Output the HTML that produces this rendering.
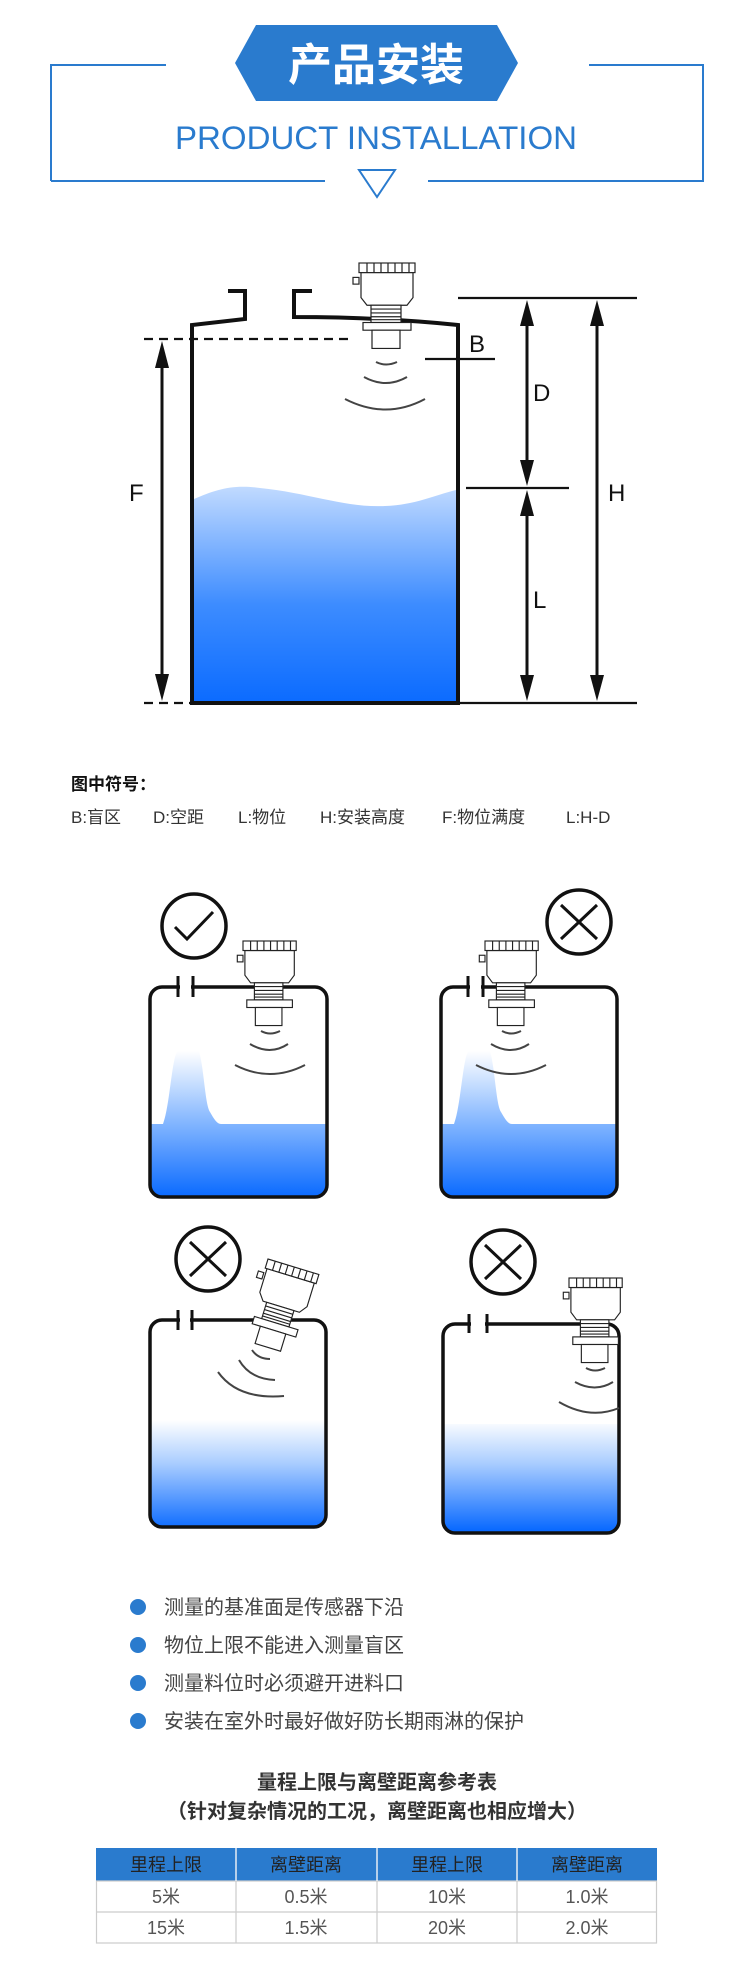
<!DOCTYPE html>
<html><head><meta charset="utf-8"><style>
html,body{margin:0;padding:0;background:#fff;}
body{width:750px;height:1978px;overflow:hidden;position:relative;}
svg{position:absolute;left:0;top:0;}
text{font-family:"Liberation Sans","Noto Sans CJK SC",sans-serif;}
</style></head><body>
<svg width="750" height="1978" viewBox="0 0 750 1978" xmlns="http://www.w3.org/2000/svg">
<defs>
<g id="sensor" fill="#fff" stroke="#222" stroke-width="1.2">
  <rect x="-6" y="15" width="6" height="7"/>
  <path d="M2,10 L54,10 L54,36 L48,44 L8,44 L2,36 Z"/>
  <rect x="0" y="0" width="56" height="10"/>
  <path d="M8,0V10M15,0V10M22,0V10M29,0V10M36,0V10M43,0V10M50,0V10" fill="none"/>
  <rect x="12" y="44" width="30" height="18"/>
  <path d="M12,48H42M12,52H42M12,56H42M12,59H42" fill="none"/>
  <rect x="4" y="62" width="48" height="8"/>
  <rect x="13" y="70" width="28" height="19"/>
</g>
<linearGradient id="gMain" x1="0" y1="484" x2="0" y2="703" gradientUnits="userSpaceOnUse">
  <stop offset="0" stop-color="#c4dcff"/><stop offset="0.55" stop-color="#3d8cff"/><stop offset="1" stop-color="#0b6bff"/>
</linearGradient>
<linearGradient id="g1" x1="0" y1="1051" x2="0" y2="1197" gradientUnits="userSpaceOnUse">
  <stop offset="0" stop-color="#ffffff"/><stop offset="0.45" stop-color="#8dbcff"/><stop offset="1" stop-color="#0a6aff"/>
</linearGradient>
<linearGradient id="g3" x1="0" y1="1420" x2="0" y2="1530" gradientUnits="userSpaceOnUse">
  <stop offset="0" stop-color="#ffffff"/><stop offset="0.4" stop-color="#a8ccff"/><stop offset="1" stop-color="#0a6aff"/>
</linearGradient>
</defs>

<!-- Header -->
<path d="M51,181 V65 H166 M589,65 H703 V181 H428 M325,181 H51" fill="none" stroke="#2a7bce" stroke-width="2"/>
<polygon points="235,63 256,25 497,25 518,63 497,101 256,101" fill="#2a7bce"/>
<text x="376" y="80" font-size="44" font-weight="bold" fill="#fff" text-anchor="middle">产品安装</text>
<text x="175" y="149" font-size="32" fill="#2a7bce" textLength="402" lengthAdjust="spacingAndGlyphs">PRODUCT INSTALLATION</text>
<polygon points="359,170 395,170 377,197" fill="none" stroke="#2a7bce" stroke-width="2"/>

<!-- Main tank -->
<path d="M194,499 C215,490 232,484 260,488 C310,493 345,508 385,506 C415,505 435,495 456,490 L456,701 L194,701 Z" fill="url(#gMain)"/>
<path d="M228,291 H245 V319 L192,325 V703 H458 V325 Q380,317 294,317 V291 H312" fill="none" stroke="#111" stroke-width="4"/>
<use href="#sensor" transform="translate(359,263) scale(1,0.96)"/>
<g fill="none" stroke="#444" stroke-width="2">
<path d="M376,362 Q386,367 397,362"/><path d="M364,377 Q386,389 407,377"/><path d="M345,399 Q386,420 425,399"/>
</g>
<g stroke="#111" stroke-width="2.2">
<line x1="144" y1="339" x2="351" y2="339" stroke-dasharray="9,6"/>
<line x1="144" y1="703" x2="192" y2="703" stroke-dasharray="9,6"/>
<line x1="425" y1="359" x2="495" y2="359"/>
<line x1="458" y1="298" x2="637" y2="298"/>
<line x1="466" y1="488" x2="569" y2="488"/>
<line x1="458" y1="703" x2="637" y2="703"/>
</g>
<g stroke="#111" stroke-width="3">
<line x1="162" y1="355" x2="162" y2="688"/>
<line x1="527" y1="312" x2="527" y2="474"/>
<line x1="527" y1="502" x2="527" y2="690"/>
<line x1="597" y1="312" x2="597" y2="690"/>
</g>
<g fill="#111">
<polygon points="162,341 155,368 169,368"/><polygon points="162,701 155,674 169,674"/>
<polygon points="527,300 520,326 534,326"/><polygon points="527,486 520,460 534,460"/>
<polygon points="527,490 520,516 534,516"/><polygon points="527,701 520,675 534,675"/>
<polygon points="597,300 590,326 604,326"/><polygon points="597,701 590,675 604,675"/>
</g>
<g font-size="24" fill="#111">
<text x="129" y="501">F</text><text x="469" y="352">B</text><text x="533" y="401">D</text><text x="533" y="608">L</text><text x="608" y="501">H</text>
</g>

<!-- Legend -->
<text x="71" y="790" font-size="17" font-weight="bold" fill="#111">图中符号：</text>
<g font-size="17" fill="#333">
<text x="71" y="823">B:盲区</text><text x="153" y="823">D:空距</text><text x="238" y="823">L:物位</text>
<text x="320" y="823">H:安装高度</text><text x="442" y="823">F:物位满度</text><text x="566" y="823">L:H-D</text>
</g>

<!-- Tank 1 (correct) -->
<path d="M150,1124 H163 C170,1106 172,1054 178,1051 H199 C204,1068 205,1104 210,1112 C214,1119 217,1124 221,1124 H327 V1185 Q327,1197 315,1197 H162 Q150,1197 150,1185 Z" fill="url(#g1)"/>
<rect x="150" y="987" width="177" height="210" rx="12" fill="none" stroke="#111" stroke-width="3.5"/>
<rect x="180" y="983" width="11" height="8" fill="#fff"/>
<line x1="178" y1="976" x2="178" y2="997" stroke="#111" stroke-width="3"/><line x1="193" y1="976" x2="193" y2="997" stroke="#111" stroke-width="3"/>
<use href="#sensor" transform="translate(243,941) scale(0.95)"/>
<g fill="none" stroke="#444" stroke-width="2">
<path d="M261,1031 Q270,1036 280,1031"/><path d="M250,1044 Q270,1056 288,1044"/><path d="M235,1065 Q270,1083 305,1065"/>
</g>
<circle cx="194" cy="926" r="32" fill="none" stroke="#111" stroke-width="3.5"/>
<polyline points="175,927 187,939 213,912" fill="none" stroke="#111" stroke-width="3"/>

<!-- Tank 2 -->
<path d="M441,1124 H454 C461,1106 463,1054 469,1051 H490 C495,1068 496,1104 501,1112 C505,1119 508,1124 512,1124 H617 V1185 Q617,1197 605,1197 H453 Q441,1197 441,1185 Z" fill="url(#g1)"/>
<rect x="441" y="987" width="176" height="210" rx="12" fill="none" stroke="#111" stroke-width="3.5"/>
<rect x="470" y="983" width="11" height="8" fill="#fff"/>
<line x1="468" y1="976" x2="468" y2="997" stroke="#111" stroke-width="3"/><line x1="483" y1="976" x2="483" y2="997" stroke="#111" stroke-width="3"/>
<use href="#sensor" transform="translate(485,941) scale(0.95)"/>
<g fill="none" stroke="#444" stroke-width="2">
<path d="M502,1031 Q511,1036 521,1031"/><path d="M491,1044 Q511,1056 529,1044"/><path d="M476,1065 Q511,1083 546,1065"/>
</g>
<circle cx="579" cy="922" r="32" fill="none" stroke="#111" stroke-width="3.5"/>
<path d="M561,905 L597,939 M597,905 L561,939" stroke="#111" stroke-width="3"/>

<!-- Tank 3 (tilted) -->
<path d="M150,1420 H326 V1515 Q326,1527 314,1527 H162 Q150,1527 150,1515 Z" fill="url(#g3)"/>
<rect x="150" y="1320" width="176" height="207" rx="12" fill="none" stroke="#111" stroke-width="3.5"/>
<rect x="180" y="1316" width="10" height="8" fill="#fff"/>
<line x1="178" y1="1310" x2="178" y2="1330" stroke="#111" stroke-width="3"/><line x1="192" y1="1310" x2="192" y2="1330" stroke="#111" stroke-width="3"/>
<use href="#sensor" transform="translate(268,1259) rotate(17) scale(0.95)"/>
<g fill="none" stroke="#444" stroke-width="2">
<path d="M252,1350 Q258,1359 270,1359"/><path d="M239,1360 Q250,1379 275,1380"/><path d="M218,1372 Q238,1400 284,1396"/>
</g>
<circle cx="208" cy="1259" r="32" fill="none" stroke="#111" stroke-width="3.5"/>
<path d="M190,1242 L226,1276 M226,1242 L190,1276" stroke="#111" stroke-width="3"/>

<!-- Tank 4 (near wall) -->
<path d="M443,1424 H619 V1521 Q619,1533 607,1533 H455 Q443,1533 443,1521 Z" fill="url(#g3)"/>
<rect x="443" y="1324" width="176" height="209" rx="12" fill="none" stroke="#111" stroke-width="3.5"/>
<rect x="471" y="1320" width="14" height="8" fill="#fff"/>
<line x1="469" y1="1314" x2="469" y2="1333" stroke="#111" stroke-width="3"/><line x1="487" y1="1314" x2="487" y2="1333" stroke="#111" stroke-width="3"/>
<use href="#sensor" transform="translate(569,1278) scale(0.95)"/>
<g fill="none" stroke="#444" stroke-width="2">
<path d="M586,1368 Q595,1373 605,1368"/><path d="M575,1382 Q595,1393 613,1382"/><path d="M559,1402 Q590,1420 619,1408"/>
</g>
<circle cx="503" cy="1262" r="32" fill="none" stroke="#111" stroke-width="3.5"/>
<path d="M485,1245 L521,1279 M521,1245 L485,1279" stroke="#111" stroke-width="3"/>

<!-- Bullets -->
<g fill="#2a7bce"><circle cx="138" cy="1607" r="8"/><circle cx="138" cy="1645" r="8"/><circle cx="138" cy="1683" r="8"/><circle cx="138" cy="1721" r="8"/></g>
<g font-size="20" fill="#444">
<text x="164" y="1614">测量的基准面是传感器下沿</text>
<text x="164" y="1652">物位上限不能进入测量盲区</text>
<text x="164" y="1690">测量料位时必须避开进料口</text>
<text x="164" y="1728">安装在室外时最好做好防长期雨淋的保护</text>
</g>

<!-- Table -->
<text x="377" y="1789" font-size="20" font-weight="bold" fill="#333" text-anchor="middle">量程上限与离壁距离参考表</text>
<text x="377" y="1818" font-size="20" font-weight="bold" fill="#333" text-anchor="middle">（针对复杂情况的工况，离壁距离也相应增大）</text>
<rect x="96" y="1848" width="561" height="33" fill="#2a7bce"/>
<g stroke="#ccc" stroke-width="1.2" fill="none">
<rect x="96.5" y="1881" width="560" height="62"/>
<line x1="96" y1="1912" x2="657" y2="1912"/>
<line x1="236" y1="1848" x2="236" y2="1943"/><line x1="377" y1="1848" x2="377" y2="1943"/><line x1="517" y1="1848" x2="517" y2="1943"/>
</g>
<g stroke="#fff" stroke-width="1.2"><line x1="236" y1="1848" x2="236" y2="1881"/><line x1="377" y1="1848" x2="377" y2="1881"/><line x1="517" y1="1848" x2="517" y2="1881"/></g>
<g font-size="18" fill="#222" text-anchor="middle">
<text x="166" y="1871">里程上限</text><text x="306" y="1871">离壁距离</text><text x="447" y="1871">里程上限</text><text x="587" y="1871">离壁距离</text>
</g>
<g font-size="18" fill="#555" text-anchor="middle">
<text x="166" y="1903">5米</text><text x="306" y="1903">0.5米</text><text x="447" y="1903">10米</text><text x="587" y="1903">1.0米</text>
<text x="166" y="1934">15米</text><text x="306" y="1934">1.5米</text><text x="447" y="1934">20米</text><text x="587" y="1934">2.0米</text>
</g>
</svg>
</body></html>
